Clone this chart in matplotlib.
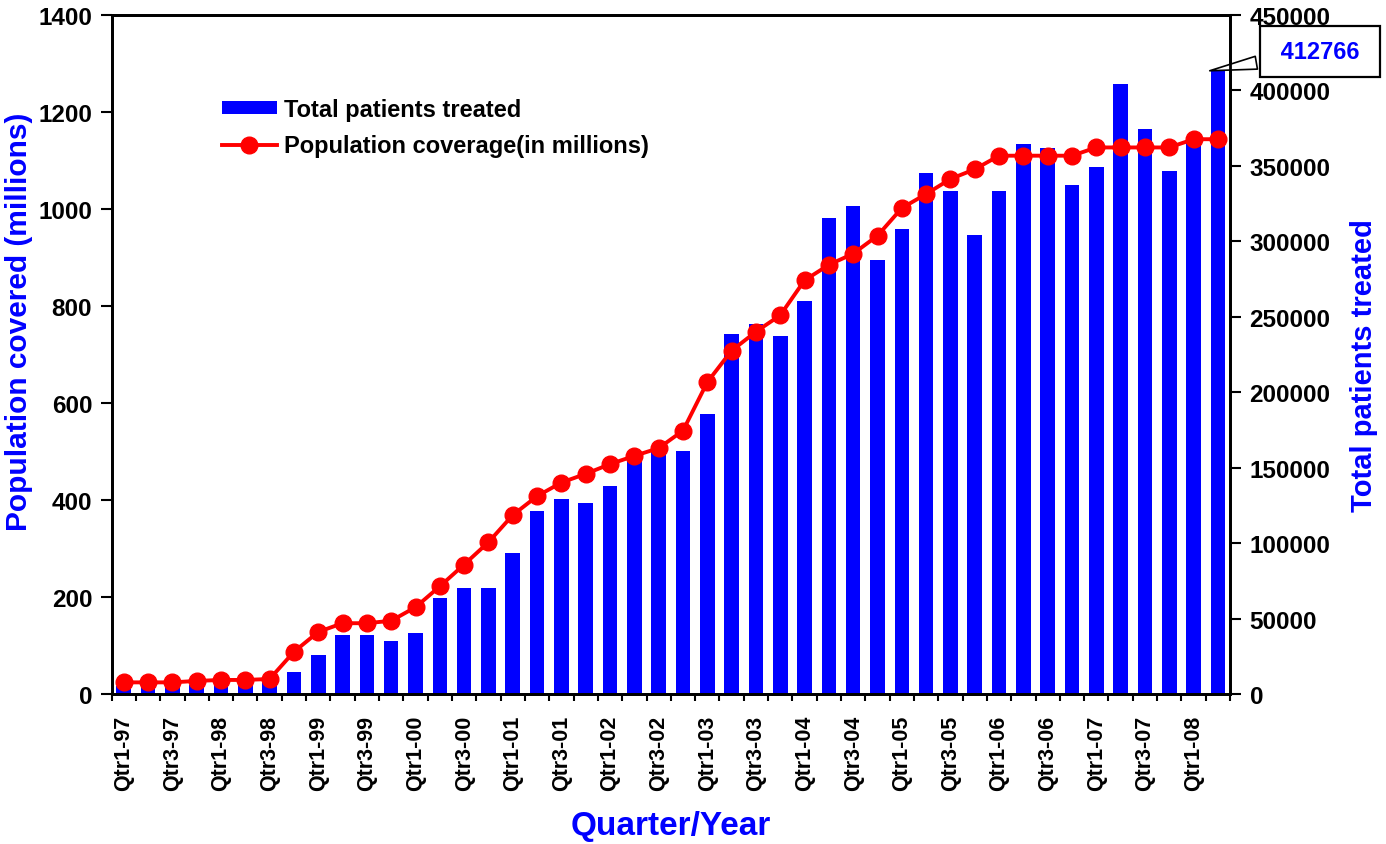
import numpy as np
import matplotlib
matplotlib.use("Agg")
import matplotlib.pyplot as plt

plt.rcParams['font.family'] = ['Liberation Sans', 'DejaVu Sans']
plt.rcParams['font.weight'] = 'bold'

# quarters Qtr1-97 .. Qtr2-08
quarters = [f"Qtr{q}-{y % 100:02d}" for y in range(1997, 2009) for q in (1, 2, 3, 4)][:46]

patients = [5000, 5000, 5000, 6000, 6600, 6600, 8200, 14800, 26000, 39300,
            39300, 35300, 40400, 63600, 70200, 70200, 93400, 121300, 129200, 126600,
            137800, 157000, 162000, 161000, 185600, 238600, 245000, 237200, 260400, 315400,
            323400, 287600, 308200, 345300, 333300, 304200, 333300, 364500, 361800, 337300,
            349200, 404200, 374400, 346600, 366000, 412766]

coverage = [24, 24, 24, 27, 29, 29, 31, 87, 128, 146,
            146, 151, 179, 222, 267, 313, 369, 408, 436, 454,
            474, 491, 507, 543, 643, 708, 747, 781, 853, 885,
            908, 945, 1002, 1031, 1062, 1082, 1110, 1110, 1110, 1110,
            1127, 1127, 1127, 1127, 1144, 1144]

blue = '#0000ff'
red = '#ff0000'

fig = plt.figure(figsize=(13.86, 8.45), dpi=100)
ax = fig.add_axes([0.0805, 0.1775, 0.807, 0.8035])
ax2 = ax.twinx()

x = np.arange(len(quarters))
bars = ax2.bar(x, patients, width=0.6, color=blue, label='Total patients treated')
line, = ax.plot(x, coverage, color=red, lw=2.8, marker='o', ms=12,
                label='Population coverage(in millions)')

# line above bars
ax.set_zorder(ax2.get_zorder() + 1)
ax.patch.set_visible(False)

ax.set_xlim(-0.5, len(quarters) - 0.5)
ax.set_ylim(0, 1400)
ax.set_yticks(range(0, 1401, 200))
ax2.set_ylim(0, 450000)
ax2.set_yticks(range(0, 450001, 50000))

ax.set_xticks(x[::2])
ax.set_xticklabels(quarters[::2], rotation=90, fontsize=15.5, fontweight='bold')
ax.set_xticks(np.arange(-0.5, len(quarters), 1), minor=True)
ax.tick_params(axis='x', which='major', length=0, pad=15)
ax.tick_params(axis='x', which='minor', length=5, width=1.5, direction='out')
ax.tick_params(axis='y', length=8, width=1.5, labelsize=17.5, pad=6)
ax2.tick_params(axis='y', length=8, width=1.5, labelsize=17.5, pad=6)
for t in ax.get_yticklabels() + ax2.get_yticklabels():
    t.set_fontweight('bold')

for a in (ax, ax2):
    for s in a.spines.values():
        s.set_linewidth(2)
        s.set_color('black')

ax.set_ylabel('Population covered (millions)', color=blue, fontsize=21.5,
              fontweight='bold')
ax.yaxis.set_label_coords(-0.07, 0.549)
ax2.set_ylabel('Total patients treated', color=blue, fontsize=21,
               fontweight='bold')
ax2.yaxis.set_label_coords(1.107, 0.485)
ax.set_xlabel('Quarter/Year', color=blue, fontsize=24, fontweight='bold', labelpad=14)

ax.legend([bars, line], [bars.get_label(), line.get_label()],
          loc='upper left', bbox_to_anchor=(0.08, 0.909), frameon=False,
          handlelength=2.3, handleheight=0.45, labelspacing=0.55,
          handletextpad=0.3, prop={'weight': 'bold', 'size': 17})

ax2.annotate(f" {patients[-1]} ", xy=(x[-1] - 0.45, patients[-1]),
             xytext=(1.0805, 0.946), textcoords='axes fraction',
             ha='center', va='center', color=blue, fontsize=17, fontweight='bold',
             bbox=dict(boxstyle='square,pad=0.6', fc='white', ec='black', lw=1.6),
             arrowprops=dict(arrowstyle='wedge,tail_width=0.55,shrink_factor=0.5',
                             fc='white', ec='black', lw=1.2),
             annotation_clip=False)

fig.savefig('out.png', dpi=100)
